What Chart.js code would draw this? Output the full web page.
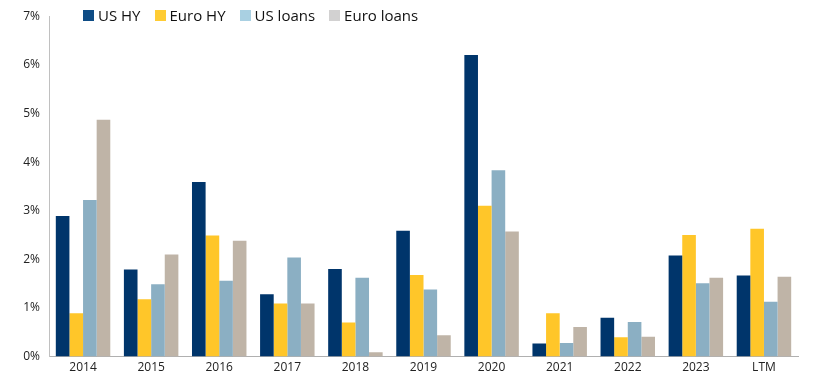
<!DOCTYPE html>
<html><head><meta charset="utf-8">
<script src="https://cdn.jsdelivr.net/npm/chart.js@4"></script>
<style>
html,body{margin:0;padding:0;background:#fff;}
#wrap{position:relative;width:830px;height:380px;}
#legend{position:absolute;left:83px;top:5px;font-family:"Open Sans",sans-serif;font-size:15px;color:#111;display:flex;}
#legend span.item{display:flex;align-items:center;margin-right:14px;}
#legend span.box{display:inline-block;width:11px;height:11px;margin-right:4px;}
</style></head>
<body><div id="wrap"><canvas id="c" width="830" height="380"></canvas><div id="legend"></div></div>
<script>
const categories = ["2014","2015","2016","2017","2018","2019","2020","2021","2022","2023","LTM"];
const seriesNames = ["US HY","Euro HY","US loans","Euro loans"];
const usHY      = [2.89,1.79,3.59,1.28,1.80,2.59,6.20,0.27,0.80,2.08,1.67];
const euroHY    = [0.89,1.18,2.49,1.09,0.70,1.68,3.10,0.89,0.40,2.50,2.63];
const usLoans   = [3.22,1.49,1.56,2.04,1.62,1.38,3.83,0.28,0.71,1.51,1.13];
const euroLoans = [4.87,2.10,2.38,1.09,0.09,0.44,2.57,0.61,0.41,1.62,1.64];
const yTicks = [0,1,2,3,4,5,6,7];

const barColors = ["#00356B","#FFC629","#8BAFC3","#BFB4A7"];
const legendColors = ["#0E4C85","#FFCC33","#A9D0E2","#D2D1D1"];
const values = [usHY, euroHY, usLoans, euroLoans];

const lg = document.getElementById('legend');
seriesNames.forEach((n,i)=>{
  const it=document.createElement('span');it.className='item';
  const b=document.createElement('span');b.className='box';b.style.background=legendColors[i];
  it.appendChild(b);it.appendChild(document.createTextNode(n));lg.appendChild(it);
});

new Chart(document.getElementById('c'), {
  type:'bar',
  data:{labels:categories, datasets: seriesNames.map((n,i)=>({label:n,data:values[i],backgroundColor:barColors[i],borderWidth:0,categoryPercentage:0.8,barPercentage:1.0}))},
  options:{
    responsive:false, animation:false,
    layout:{padding:{top:6,right:32,left:0,bottom:1}},
    plugins:{legend:{display:false},tooltip:{enabled:false}},
    scales:{
      x:{grid:{display:false,drawTicks:false},border:{color:'#b0b0b0',width:1},
         ticks:{color:'#222',font:{family:'Open Sans',size:12},padding:4}},
      y:{min:0,max:7,grid:{display:false,drawTicks:false},border:{color:'#c0c0c0',width:1},
         afterBuildTicks:(s)=>{s.ticks=yTicks.map(v=>({value:v}));},
         afterFit:(s)=>{s.width=49;},
         ticks:{color:'#222',font:{family:'Open Sans',size:12},padding:9,callback:v=>v+'%'}}
    }
  }
});
</script></body></html>
